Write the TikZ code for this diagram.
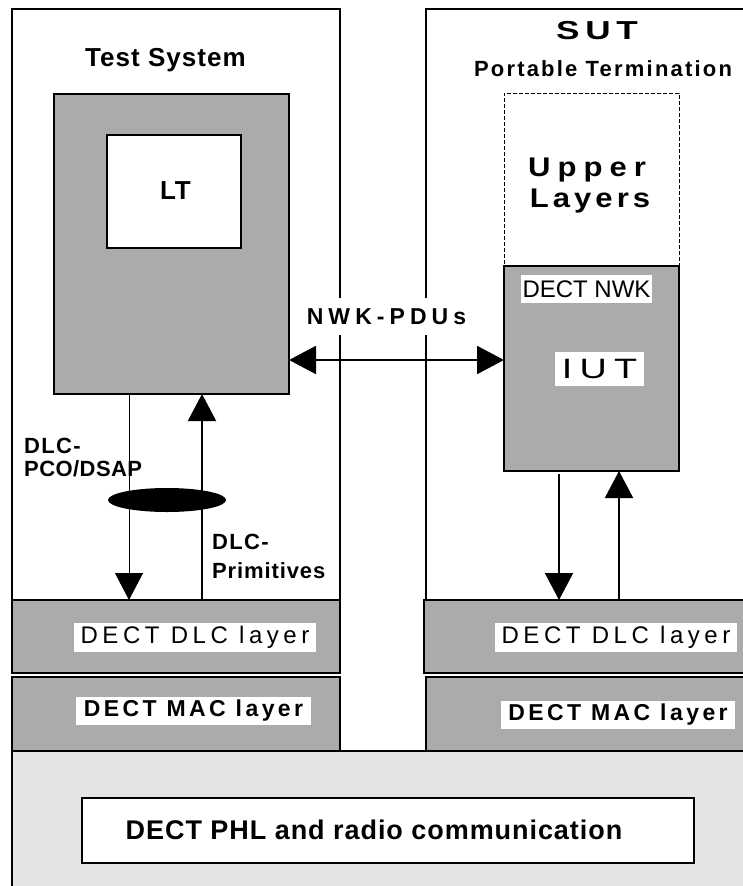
\documentclass[tikz,border=0pt]{standalone}
\usepackage{fontspec}
\setmainfont{Liberation Sans}
\newfontfamily\widefont{Liberation Sans}[FakeStretch=1.35]
\newfontfamily\semiwide{Liberation Sans}[FakeStretch=1.15]
\usetikzlibrary{arrows.meta,shapes.geometric}
\definecolor{midgray}{HTML}{ABABAB}
\definecolor{lightgray}{HTML}{E4E4E4}
\newcommand\tx[3]{\fontsize{#1}{#1}\selectfont\addfontfeatures{LetterSpace=#2}#3}
\begin{document}
\begin{tikzpicture}[x=1pt,y=-1pt,
  frame/.style={draw, line width=2pt, inner sep=0pt, outer sep=0pt, anchor=north west},
  graybox/.style={frame, fill=midgray},
  lbl/.style={fill=white, inner xsep=1.5pt, inner ysep=0pt},
  txt/.style={inner sep=0pt, anchor=base},
  tip/.style={-{Triangle[length=27pt,width=28pt]}},
  conn/.style={line width=2pt, tip}]
\useasboundingbox (0,0) rectangle (743,886);
\clip (0,0) rectangle (743,886);
% outer boxes
\node[frame, minimum width=328pt, minimum height=591pt] (ts) at (12,9) {};
\node[frame, minimum width=340pt, minimum height=591pt] (sut) at (426,9) {};
% physical layer
\node[frame, fill=lightgray, minimum width=760pt, minimum height=140pt] (phy) at (12,751) {};
\node[frame, fill=white, minimum width=612pt, minimum height=65pt] (phl) at (82,798) {};
% layers
\node[graybox, minimum width=328pt, minimum height=73pt] (dlcL) at (12,600) {};
\node[graybox, minimum width=328pt, minimum height=74pt] (macL) at (12,677) {};
\node[graybox, minimum width=342pt, minimum height=73pt] (dlcR) at (424,600) {};
\node[graybox, minimum width=340pt, minimum height=74pt] (macR) at (426,677) {};
% test system boxes
\node[graybox, minimum width=235pt, minimum height=300pt] (ltg) at (54,94) {};
\node[frame, fill=white, minimum width=134pt, minimum height=113pt] (lt) at (107,135) {};
% SUT boxes
\node[frame, line width=1pt, dash pattern=on 4pt off 2pt, minimum width=175pt, minimum height=173pt] (upper) at (504,93) {};
\node[frame, line width=1.2pt, fill=midgray, minimum width=175pt, minimum height=205pt] (iut) at (504,266) {};
% ellipse
\node[ellipse, fill=black, minimum width=118pt, minimum height=24pt, inner sep=0pt] (ell) at (167,500) {};
% connector coordinates
\coordinate (nwky) at (0,360);
\coordinate (dnL) at (129,0);
\coordinate (upL) at (202,0);
\coordinate (dnR) at (559,0);
\coordinate (upR) at (619,0);
\draw[line width=2pt, {Triangle[length=27pt,width=28pt]}-{Triangle[length=27pt,width=28pt]}] (ltg.east |- nwky) -- (iut.west |- nwky);
\draw[line width=1pt, tip] (ltg.south -| dnL) -- (dlcL.north -| dnL);
\draw[conn] (dlcL.north -| upL) -- (ltg.south -| upL);
\draw[conn, shorten <=3pt] (iut.south -| dnR) -- (dlcR.north -| dnR);
\draw[conn] (dlcR.north -| upR) -- (iut.south -| upR);
% labels
\node[txt, font=\bfseries] (tsl) at (165.5,66) {\tx{26}{4}{Test System}};
\node[txt, font=\bfseries] (ltl) at (175.5,199) {\tx{26}{3}{LT}};
\node[txt, font=\widefont\bfseries] (sutl) at (597,39) {\tx{26}{22}{SUT}};
\node[txt, font=\bfseries] (ptl) at (603,76) {\tx{22}{10}{Portable Termination}};
\node[txt, font=\semiwide\bfseries] (up1) at (587,176) {\tx{27}{26}{Upper}};
\node[txt, font=\semiwide\bfseries] (up2) at (590,207) {\tx{27}{15}{Layers}};
\node[lbl, minimum width=131pt, minimum height=28pt] (nwkl) at (586.5,289) {\tx{24}{0}{DECT NWK}};
\node[lbl, font=\widefont, minimum width=89pt, minimum height=34pt] (iutl) at (599.5,369) {\tx{28}{26}{IUT}};
\node[fill=white, inner xsep=2pt, inner ysep=0pt, minimum height=37pt, font=\bfseries] (pdul) at (386.5,316.5) {\tx{23}{22}{NWK-PDUs}};
\node[txt, anchor=base west, font=\bfseries] (a1) at (24,453) {\tx{22}{6}{DLC-}};
\node[txt, anchor=base west, font=\bfseries] (a2) at (24,476) {\tx{22}{2}{PCO/DSAP}};
\node[txt, anchor=base west, font=\bfseries] (b1) at (212,549) {\tx{22}{6}{DLC-}};
\node[txt, anchor=base west, font=\bfseries] (b2) at (212,578) {\tx{22}{4}{Primitives}};
\node[lbl, minimum width=242pt, minimum height=29pt] (dlcLl) at (195,637.5) {\tx{24}{19}{DECT DLC layer}};
\node[lbl, minimum width=242pt, minimum height=29pt] (dlcRl) at (616,637.5) {\tx{24}{19}{DECT DLC layer}};
\node[lbl, font=\bfseries, minimum width=235pt, minimum height=28pt] (macLl) at (193.5,711) {\tx{23}{15}{DECT MAC layer}};
\node[lbl, font=\bfseries, minimum width=234pt, minimum height=28pt] (macRl) at (618,714.5) {\tx{23}{15}{DECT MAC layer}};
\node[txt, anchor=center, font=\bfseries] (phll) at (374,830) {\tx{27}{3.5}{DECT PHL and radio communication}};
\end{tikzpicture}
\end{document}
